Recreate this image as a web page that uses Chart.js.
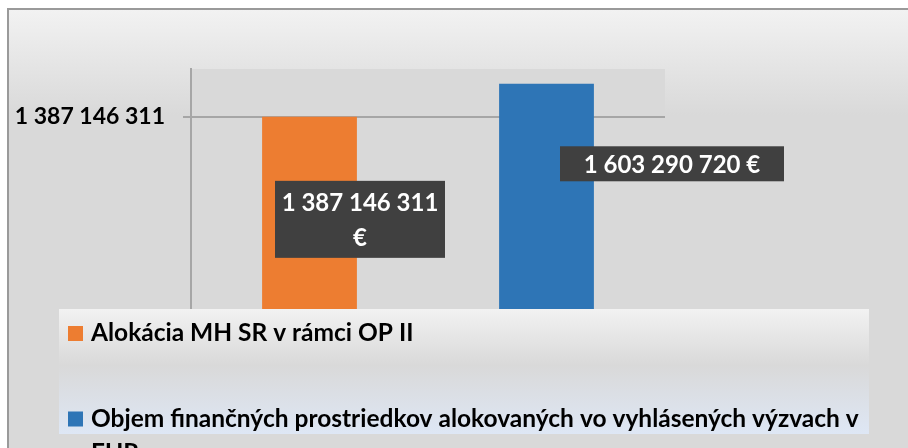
<!DOCTYPE html>
<html>
<head>
<meta charset="utf-8">
<script src="https://cdn.jsdelivr.net/npm/chart.js@4.4.0/dist/chart.umd.min.js"></script>
<style>
  html, body { margin: 0; padding: 0; background: #fff; }
  #wrap { width: 908px; height: 448px; position: relative; }
</style>
</head>
<body>
<div id="wrap"><canvas id="chart" width="908" height="448"></canvas></div>
<script>
// Data.
const categories = [''];
const seriesNames = [
  'Alokácia MH SR v rámci OP II',
  'Objem finančných prostriedkov alokovaných vo vyhlásených výzvach v EUR',
];
const seriesValues = [1387146311, 1603290720];
const yTickValues = [1387146311];
const yAxisMax = 1700000000;

const FONT = 'Lato, "Open Sans", sans-serif';

function fmt(v) {
  return String(v).replace(/\B(?=(\d{3})+(?!\d))/g, ' ');
}

function wrapText(ctx, text, maxWidth) {
  const words = text.split(' ');
  const lines = [];
  let current = '';
  for (const word of words) {
    const test = current ? current + ' ' + word : word;
    if (current && ctx.measureText(test).width > maxWidth) {
      lines.push(current);
      current = word;
    } else {
      current = test;
    }
  }
  if (current) lines.push(current);
  return lines;
}

// Gradient page background, outer frame and plot-area fill.
const backgroundPlugin = {
  id: 'background',
  beforeDraw(chart) {
    const { ctx, chartArea, width, height } = chart;
    ctx.save();
    ctx.fillStyle = '#ffffff';
    ctx.fillRect(0, 0, width, height);
    const g = ctx.createLinearGradient(0, 9, 0, 115);
    g.addColorStop(0, '#f2f2f2');
    g.addColorStop(1, '#d9d9d9');
    ctx.fillStyle = g;
    ctx.fillRect(8, 9, width, height);
    ctx.strokeStyle = '#9a9a9a';
    ctx.lineWidth = 2;
    ctx.beginPath();
    ctx.moveTo(8, height + 5);
    ctx.lineTo(8, 9);
    ctx.lineTo(width + 5, 9);
    ctx.stroke();
    ctx.fillStyle = '#d9d9d9';
    ctx.fillRect(chartArea.left, chartArea.top, chartArea.right - chartArea.left, chartArea.bottom - chartArea.top);
    ctx.restore();
  },
};

// Dark boxed value labels, placed beside each bar like in the reference.
const valueLabelPlugin = {
  id: 'valueLabels',
  afterDatasetsDraw(chart, args, opts) {
    const { ctx } = chart;
    ctx.save();
    ctx.font = 'bold 24px ' + FONT;
    ctx.textAlign = 'center';
    ctx.textBaseline = 'middle';
    chart.data.datasets.forEach((ds, i) => {
      const bar = chart.getDatasetMeta(i).data[0];
      const box = opts.boxes[i];
      const cx = bar.x + box.dx;
      const cy = bar.y + box.dy;
      ctx.fillStyle = '#404040';
      ctx.fillRect(cx - box.w / 2, cy - box.h / 2, box.w, box.h);
      const lines = wrapText(ctx, fmt(ds.data[0]) + ' €', box.w - 8);
      ctx.fillStyle = '#ffffff';
      lines.forEach((line, k) => {
        ctx.fillText(line, cx, cy + (k - (lines.length - 1) / 2) * opts.lineHeight + 1);
      });
    });
    ctx.restore();
  },
};

// Legend box overlapping the lower part of the plot.
const legendPlugin = {
  id: 'boxLegend',
  afterDraw(chart, args, opts) {
    const { ctx } = chart;
    const { x, y, w, h } = opts;
    ctx.save();
    const g = ctx.createLinearGradient(0, y, 0, y + h);
    g.addColorStop(0, '#f2f2f2');
    g.addColorStop(0.45, '#d9d9d9');
    g.addColorStop(1, '#dee7f5');
    ctx.fillStyle = g;
    ctx.fillRect(x, y, w, h);
    ctx.font = 'bold 24.5px ' + FONT;
    ctx.textAlign = 'left';
    ctx.textBaseline = 'middle';
    chart.data.datasets.forEach((ds, i) => {
      const cy = opts.rows[i];
      ctx.fillStyle = ds.backgroundColor;
      ctx.fillRect(x + 9, cy - 7.5, 15, 15);
      ctx.fillStyle = '#000000';
      const lines = wrapText(ctx, ds.label, w - 34);
      lines.forEach((line, k) => {
        ctx.fillText(line, x + 32, cy + k * opts.lineHeight);
      });
    });
    ctx.restore();
  },
};

new Chart(document.getElementById('chart'), {
  type: 'bar',
  data: {
    labels: categories,
    datasets: seriesNames.map((name, i) => ({
      label: name,
      data: [seriesValues[i]],
      backgroundColor: ['#ED7D31', '#2E75B6'][i],
      barPercentage: 0.4,
      categoryPercentage: 1.0,
    })),
  },
  options: {
    responsive: false,
    animation: false,
    layout: { padding: { left: 0, top: 69, right: 243, bottom: 119 } },
    plugins: {
      legend: { display: false },
      tooltip: { enabled: false },
      valueLabels: {
        lineHeight: 35,
        boxes: [
          { dx: 50.5, dy: 102.5, w: 170, h: 77 },
          { dx: 125.5, dy: 80, w: 224, h: 35 },
        ],
      },
      boxLegend: { x: 59, y: 309, w: 810, h: 125, rows: [333.5, 419], lineHeight: 34 },
    },
    scales: {
      x: { display: false },
      y: {
        min: 0,
        max: yAxisMax,
        afterFit(scale) { scale.width = 191; },
        afterBuildTicks(scale) { scale.ticks = yTickValues.map((v) => ({ value: v })); },
        ticks: {
          color: '#000000',
          padding: 18,
          font: { family: FONT, size: 23, weight: 'bold' },
          callback: (v) => fmt(v),
        },
        grid: { color: '#a6a6a6', lineWidth: 2, tickLength: 8 },
        border: { display: true, color: '#a6a6a6', width: 2 },
      },
    },
  },
  plugins: [backgroundPlugin, valueLabelPlugin, legendPlugin],
});
</script>
</body>
</html>
